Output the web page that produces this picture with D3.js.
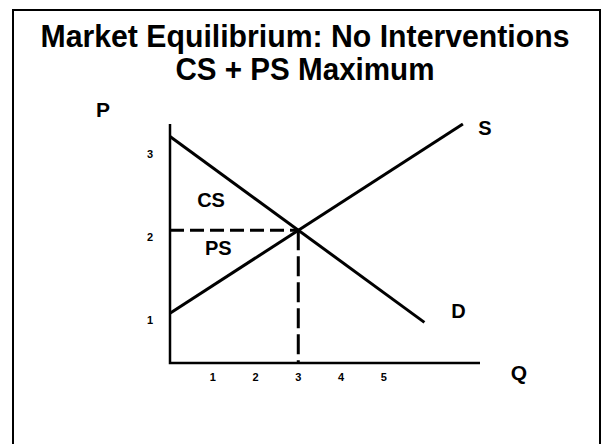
<!DOCTYPE html>
<html>
<head>
<meta charset="utf-8">
<script src="https://cdn.jsdelivr.net/npm/d3@7"></script>
<style>
  html, body { margin: 0; padding: 0; background: #fff; }
  svg { display: block; }
</style>
</head>
<body>
<svg id="graphContainer"></svg>
<script>
/* data */
const titleLines = ['Market Equilibrium: No Interventions', 'CS + PS Maximum']
const qTicks = [1, 2, 3, 4, 5]
const pTicks = [1, 2, 3]
const supplyQ = [0, 6.85], supplyP = [1, 3.28]
const demandQ = [0, 5.95], demandP = [3.13, 0.89]
const eqQ = 3, eqP = 2
const surplusNames = ['CS', 'PS']
const surplusQ = [0.96, 1.13], surplusP = [2.28, 1.7]

const width = 602, height = 444
const plot = {left: 170, right: 480, top: 124, bottom: 363}
const titleWidths = [529, 259]

let svgContainer = d3.select('#graphContainer')
                     .attr('width', width)
                     .attr('height', height)

/* scales */
const xScale = d3.scaleLinear()
                 .domain([0, 7.25])
                 .range([plot.left, plot.right])
const yScale = d3.scaleLinear()
                 .domain([0.4, 3.28])
                 .range([plot.bottom, plot.top])

/* frame */
svgContainer.append('rect')
            .attr('x', 13).attr('y', 10)
            .attr('width', 587).attr('height', 460)
            .attr('fill', 'none')
            .attr('stroke', '#000')
            .attr('stroke-width', 2)

const lbl = '"Liberation Sans", Arial, sans-serif'

/* title */
svgContainer.selectAll('.title')
            .data(titleLines)
            .enter()
            .append('text')
            .attr('class', 'title')
            .attr('x', 305)
            .attr('y', (d, i) => 47 + i * 33)
            .attr('text-anchor', 'middle')
            .attr('textLength', (d, i) => titleWidths[i])
            .attr('lengthAdjust', 'spacingAndGlyphs')
            .style('font-family', lbl)
            .style('font-weight', 'bold')
            .style('font-size', '31px')
            .text(d => d)

/* axes */
const axisLine = d3.line().x(d => d[0]).y(d => d[1])
svgContainer.append('path')
            .attr('d', axisLine([[xScale(0), yScale(3.28)], [xScale(0), yScale(0.4)], [xScale(7.25), yScale(0.4)]]))
            .attr('fill', 'none')
            .attr('stroke', '#000')
            .attr('stroke-width', 2.5)

svgContainer.selectAll('.qtick')
            .data(qTicks)
            .enter()
            .append('text')
            .attr('class', 'qtick')
            .attr('x', d => xScale(d))
            .attr('y', yScale(0.4) + 18)
            .attr('text-anchor', 'middle')
            .style('font-family', lbl)
            .style('font-weight', 'bold')
            .style('font-size', '11px')
            .text(d => d)

svgContainer.selectAll('.ptick')
            .data(pTicks)
            .enter()
            .append('text')
            .attr('class', 'ptick')
            .attr('x', xScale(0) - 20)
            .attr('y', d => yScale(d) + 11)
            .attr('text-anchor', 'middle')
            .style('font-family', lbl)
            .style('font-weight', 'bold')
            .style('font-size', '11px')
            .text(d => d)

/* dashed guides to equilibrium */
const line = d3.line().x(d => xScale(d[0])).y(d => yScale(d[1]))
svgContainer.append('path')
            .attr('d', line([[0, eqP], [eqQ, eqP]]))
            .attr('stroke', '#000')
            .attr('stroke-width', 3)
            .attr('stroke-dasharray', '14,6')
svgContainer.append('path')
            .attr('d', line([[eqQ, eqP], [eqQ, 0.4]]))
            .attr('stroke', '#000')
            .attr('stroke-width', 3)
            .attr('stroke-dasharray', '20,6')

/* supply and demand */
const curves = [
    {name: 'S', pts: d3.zip(supplyQ, supplyP), dx: 22, dy: 11},
    {name: 'D', pts: d3.zip(demandQ, demandP), dx: 34, dy: -4}
]
svgContainer.selectAll('.curve')
            .data(curves)
            .enter()
            .append('path')
            .attr('class', 'curve')
            .attr('d', d => line(d.pts))
            .attr('fill', 'none')
            .attr('stroke', '#000')
            .attr('stroke-width', 3)

svgContainer.selectAll('.curveName')
            .data(curves)
            .enter()
            .append('text')
            .attr('class', 'curveName')
            .attr('x', d => xScale(d.pts[1][0]) + d.dx)
            .attr('y', d => yScale(d.pts[1][1]) + d.dy)
            .attr('text-anchor', 'middle')
            .style('font-family', lbl)
            .style('font-weight', 'bold')
            .style('font-size', '20px')
            .text(d => d.name)

/* surplus labels */
svgContainer.selectAll('.surplus')
            .data(surplusNames)
            .enter()
            .append('text')
            .attr('class', 'surplus')
            .attr('x', (d, i) => xScale(surplusQ[i]))
            .attr('y', (d, i) => yScale(surplusP[i]))
            .attr('text-anchor', 'middle')
            .style('font-family', lbl)
            .style('font-weight', 'bold')
            .style('font-size', '20px')
            .text(d => d)

/* axis names */
svgContainer.append('text')
            .attr('x', xScale(0) - 67)
            .attr('y', yScale(3.28) - 7)
            .attr('text-anchor', 'middle')
            .style('font-family', lbl)
            .style('font-weight', 'bold')
            .style('font-size', '21px')
            .text('P')
svgContainer.append('text')
            .attr('x', xScale(7.25) + 39)
            .attr('y', yScale(0.4) + 17)
            .attr('text-anchor', 'middle')
            .style('font-family', lbl)
            .style('font-weight', 'bold')
            .style('font-size', '21px')
            .text('Q')
</script>
</body>
</html>
